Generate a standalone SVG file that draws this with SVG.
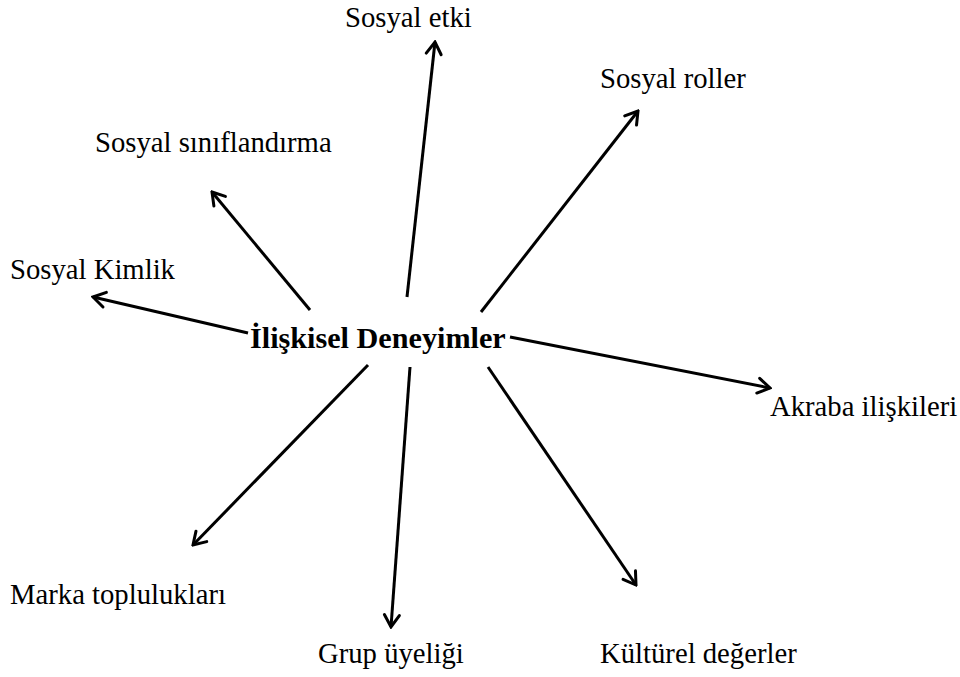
<svg xmlns="http://www.w3.org/2000/svg" width="960" height="677" viewBox="0 0 960 677">
  <style>
    text { font-family: 'Liberation Serif', 'Times New Roman', Tinos, 'DejaVu Serif', serif; fill: #000; }
    .lbl { font-size: 28.7px; }
    .hub { font-size: 30.2px; font-weight: bold; }
    .edge { stroke: #000; stroke-width: 3; fill: none; marker-end: url(#head); }
  </style>
  <defs>
    <marker id="head" viewBox="0 0 20 20" refX="18" refY="10" markerWidth="20" markerHeight="20" markerUnits="userSpaceOnUse" orient="auto">
      <path d="M6,2.5 L18,10 L6,17.5" fill="none" stroke="#000" stroke-width="3" stroke-linecap="round" stroke-linejoin="miter"/>
    </marker>
  </defs>
  <rect width="960" height="677" fill="#fff"/>
  <g id="connectors">
    <line class="edge" x1="407" y1="297" x2="435" y2="42"/>
    <line class="edge" x1="481" y1="312" x2="638" y2="111"/>
    <line class="edge" x1="310" y1="310" x2="212" y2="192"/>
    <line class="edge" x1="248" y1="333" x2="93" y2="297"/>
    <line class="edge" x1="510" y1="337" x2="770" y2="388"/>
    <line class="edge" x1="488" y1="367" x2="636" y2="585"/>
    <line class="edge" x1="410" y1="367" x2="391" y2="627"/>
    <line class="edge" x1="368" y1="365" x2="193" y2="545"/>
  </g>
  <g id="hub"><text class="hub" x="250" y="348">İlişkisel Deneyimler</text></g>
  <g id="sosyal-etki"><text class="lbl" x="345" y="27">Sosyal etki</text></g>
  <g id="sosyal-roller"><text class="lbl" x="600" y="88">Sosyal roller</text></g>
  <g id="sosyal-siniflandirma"><text class="lbl" x="95" y="152">Sosyal sınıflandırma</text></g>
  <g id="sosyal-kimlik"><text class="lbl" x="10" y="279">Sosyal Kimlik</text></g>
  <g id="akraba"><text class="lbl" x="770" y="416">Akraba ilişkileri</text></g>
  <g id="marka"><text class="lbl" x="10" y="604">Marka toplulukları</text></g>
  <g id="grup"><text class="lbl" x="318" y="663">Grup üyeliği</text></g>
  <g id="kulturel"><text class="lbl" x="600" y="663">Kültürel değerler</text></g>
</svg>
